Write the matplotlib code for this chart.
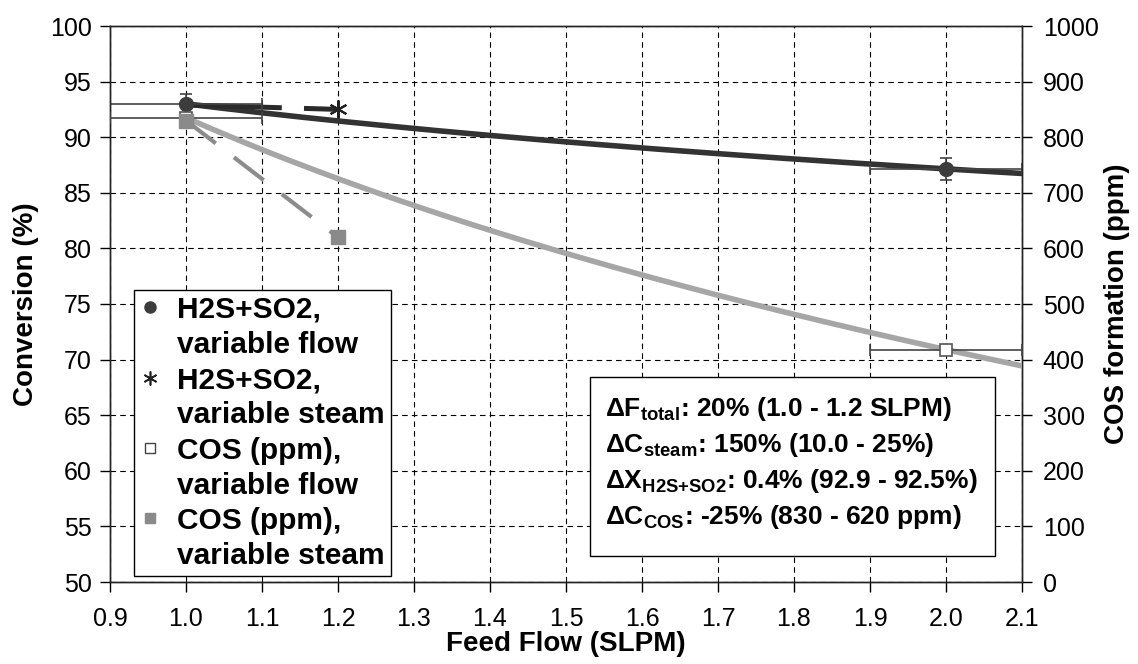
import numpy as np
import matplotlib
matplotlib.use("Agg")
import matplotlib.pyplot as plt
from matplotlib.lines import Line2D

plt.rcParams['font.family'] = ['Liberation Sans', 'DejaVu Sans']
plt.rcParams['mathtext.fontset'] = 'custom'
plt.rcParams['mathtext.rm'] = 'Liberation Sans'
plt.rcParams['mathtext.bf'] = 'Liberation Sans:bold'
plt.rcParams['lines.scale_dashes'] = False

# conversion of H2S+SO2 (%), left axis
flow_x = [1.0, 2.0]
conv_flow = [93.0, 87.15]
conv_flow_yerr = [0.9, 1.0]
steam_x = [1.0, 1.2]
conv_steam = [92.9, 92.5]

# COS formation (ppm), right axis
cos_flow = [835, 418]
cos_steam = [830, 620]
flow_xerr = 0.1

ticks_x = [0.9, 1.0, 1.1, 1.2, 1.3, 1.4, 1.5, 1.6, 1.7, 1.8, 1.9, 2.0, 2.1]
ticks_left = list(range(50, 101, 5))
ticks_right = list(range(0, 1001, 100))

box_lines = [
    r'ΔF$_{\mathbf{total}}$: 20% (1.0 - 1.2 SLPM)',
    r'ΔC$_{\mathbf{steam}}$: 150% (10.0 - 25%)',
    r'ΔX$_{\mathbf{H2S{+}SO2}}$: 0.4% (92.9 - 92.5%)',
    r'ΔC$_{\mathbf{COS}}$: -25% (830 - 620 ppm)',
]

fig = plt.figure(figsize=(11.38, 6.64), dpi=100)
ax = fig.add_axes([110 / 1138, 1 - 582 / 664, 912 / 1138, 556 / 664])
ax2 = ax.twinx()

ax.set_xlim(0.9, 2.1)
ax.set_ylim(50, 100)
ax2.set_ylim(0, 1000)
ax.set_xticks(ticks_x)
ax.set_xticklabels(['%.1f' % t for t in ticks_x])
ax.set_yticks(ticks_left)
ax2.set_yticks(ticks_right)

ax.grid(True, color='black', linestyle=(0, (4, 3)), linewidth=0.8)
ax.set_axisbelow(True)
for a in (ax, ax2):
    for s in a.spines.values():
        s.set_linewidth(1.0)
        s.set_color('#222222')
ax.tick_params(axis='both', direction='out', length=7, width=1, labelsize=18)
ax.tick_params(axis='x', pad=11)
ax.tick_params(axis='y', pad=6)
ax2.tick_params(axis='y', direction='out', length=7, width=1, labelsize=18, pad=8)

ax.set_xlabel('Feed Flow (SLPM)', fontsize=20, fontweight='bold', labelpad=0)
ax.set_ylabel('Conversion (%)', fontsize=20, fontweight='bold', labelpad=8)
ax2.set_ylabel('COS formation (ppm)', fontsize=20, fontweight='bold', labelpad=4)

# logarithmic trend lines through the variable-flow points
xt = np.linspace(1.0, 2.1, 200)
k1 = np.polyfit(np.log(flow_x), conv_flow, 1)
k2 = np.polyfit(np.log(flow_x), cos_flow, 1)

ax.plot(xt, np.polyval(k1, np.log(xt)), color='#333333', lw=4, zorder=3)
ax.plot(steam_x, conv_steam, color='#2a2a2a', lw=3.6, dashes=(69, 16), zorder=3)
ax.errorbar(flow_x, conv_flow, yerr=conv_flow_yerr, xerr=flow_xerr, fmt='none',
            ecolor='#444444', elinewidth=1.2, capsize=4, capthick=1.2, zorder=4)
ax.plot(flow_x, conv_flow, 'o', color='#3c3c3c', ms=10, zorder=5)
ax.plot(steam_x[1:], conv_steam[1:], marker=(6, 2, 0), color='#222222', ms=13,
        mew=1.5, ls='none', zorder=5)

ax2.plot(xt, np.polyval(k2, np.log(xt)), color='#a6a6a6', lw=4, zorder=3)
ax2.plot(steam_x, cos_steam, color='#8c8c8c', lw=3, dashes=(27, 16.5), zorder=3)
ax2.errorbar(flow_x, cos_flow, xerr=flow_xerr, fmt='none', ecolor='#444444',
             elinewidth=1.2, capsize=4, capthick=1.2, zorder=4)
ax2.plot(flow_x, cos_flow, 's', mfc='white', mec='#555555', mew=1.2, ms=9, zorder=5)
ax2.plot(steam_x, cos_steam, 's', color='#8a8a8a', ms=10, zorder=5)

# legend: marker on the first line of each two-line entry
blank = Line2D([], [], ls='none')
handles = [
    Line2D([], [], marker='o', color='#3c3c3c', ls='none', ms=8), blank,
    Line2D([], [], marker=(6, 2, 0), color='#222222', ls='none', ms=10, mew=1.2), blank,
    Line2D([], [], marker='s', mfc='white', mec='#444444', ls='none', ms=7), blank,
    Line2D([], [], marker='s', color='#8a8a8a', ls='none', ms=7), blank,
]
labels = ['H2S+SO2,', 'variable flow', 'H2S+SO2,', 'variable steam',
          'COS (ppm),', 'variable flow', 'COS (ppm),', 'variable steam']
leg = ax2.legend(handles, labels, loc='lower left',
                 bbox_to_anchor=(134 / 1138, 1 - 576 / 664), bbox_transform=fig.transFigure,
                 prop={'size': 21.5, 'weight': 'bold'}, frameon=True, fancybox=False,
                 framealpha=1, edgecolor='black', borderpad=0.2, labelspacing=0.24,
                 handlelength=0.7, handletextpad=0.55, borderaxespad=0)
leg.get_frame().set_linewidth(1.0)
leg.set_zorder(10)

# summary box
box = plt.Rectangle((590 / 1138, 1 - 556 / 664), 405 / 1138, 179 / 664,
                    transform=fig.transFigure, facecolor='white', edgecolor='black',
                    lw=1.0, zorder=10)
fig.add_artist(box)
for i, line in enumerate(box_lines):
    fig.text(605 / 1138, 1 - (416 + 36 * i) / 664, line, fontsize=19,
             fontweight='bold', va='baseline', ha='left', zorder=11)

fig.savefig('out.png', dpi=100)
